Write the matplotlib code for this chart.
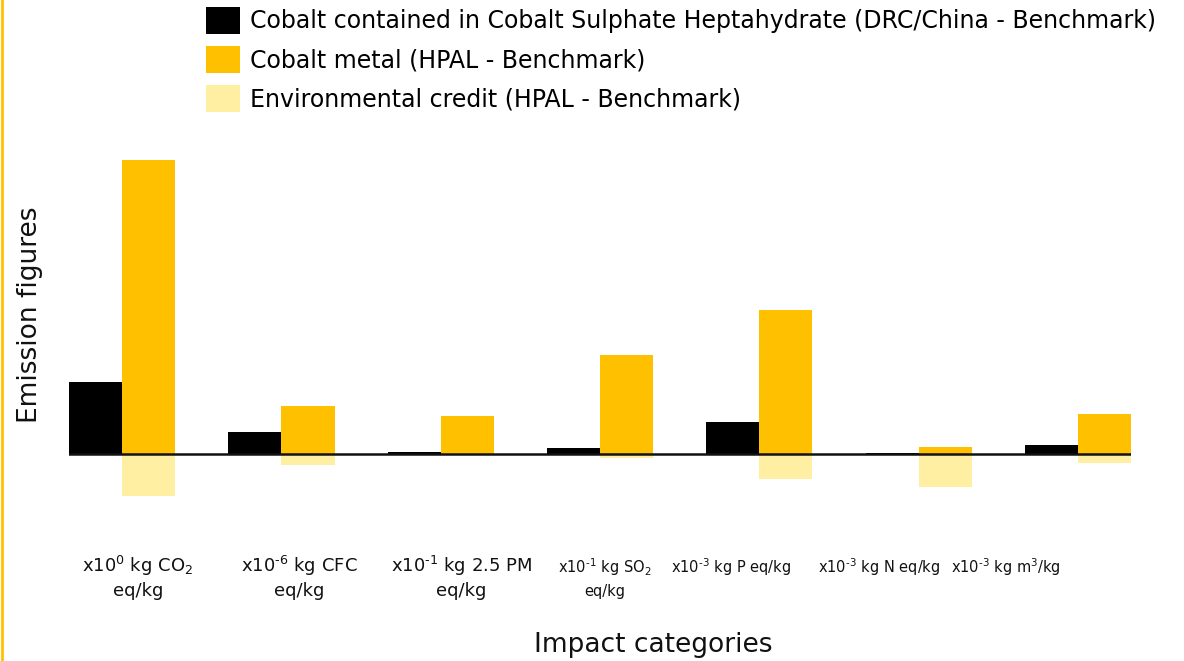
import numpy as np
import matplotlib
matplotlib.use('Agg')
import matplotlib.pyplot as plt
from matplotlib.lines import Line2D

plt.rcParams['font.family'] = 'DejaVu Sans'
plt.rcParams['mathtext.fontset'] = 'dejavusans'

HY = '\u2010'  # short hyphen, narrower than the math minus
categories = [
    'x10$^{0}$ kg CO$_{2}$\neq/kg',
    f'x10$^{{{HY}6}}$ kg CFC\neq/kg',
    f'x10$^{{{HY}1}}$ kg 2.5 PM\neq/kg',
    f'x10$^{{{HY}1}}$ kg SO$_{{2}}$\neq/kg',
    f'x10$^{{{HY}3}}$ kg P eq/kg',
    f'x10$^{{{HY}3}}$ kg N eq/kg',
    f'x10$^{{{HY}3}}$ kg m$^{{3}}$/kg',
]
# label offsets from group centre and font sizes (placed by hand in the original)
label_shift = [0.10, 0.11, 0.13, 0.03, -0.18, -0.25, -0.45]
label_size = [13, 13, 13, 10.5, 10.5, 10.5, 10.5]

cobalt_sulphate = [72, 22, 2.5, 6, 32, 1, 9]
cobalt_metal = [294, 48, 38, 99, 144, 7, 40]
env_credit = [-42, -11, -1, -3.5, -25, -33, -9]

legend_labels = [
    'Cobalt contained in Cobalt Sulphate Heptahydrate (DRC/China - Benchmark)',
    'Cobalt metal (HPAL - Benchmark)',
    'Environmental credit (HPAL - Benchmark)',
]
colors = ['#000000', '#FFC000', '#FFEFA3']

W, H = 1184, 661
fig = plt.figure(figsize=(W / 100, H / 100), dpi=100)
ax = fig.add_axes([69 / W, (H - 520) / H, 1062 / W, 370 / H])

x = np.arange(len(categories))
w = 1 / 3
ax.bar(x - w / 2, cobalt_sulphate, width=w, color=colors[0], label=legend_labels[0])
ax.bar(x + w / 2, cobalt_metal, width=w, color=colors[1], label=legend_labels[1])
ax.bar(x + w / 2, env_credit, width=w, color=colors[2], label=legend_labels[2])
ax.axhline(0, color='#111111', lw=1.8, zorder=3)

ax.set_xlim(-w, len(categories) - 1 + w)
ax.set_ylim(-66, 304)
ax.set_yticks([])
ax.set_xticks([])
for s in ax.spines.values():
    s.set_visible(False)

for i, lab in enumerate(categories):
    small = label_size[i] < 12
    ax.text(i + label_shift[i], -102 if small else -100, lab, ha='center', va='top',
            fontsize=label_size[i], linespacing=1.5 if small else 1.3,
            color='#111111')

fig.text(653 / W, 1 - 645 / H, 'Impact categories', ha='center', va='center',
         fontsize=19, color='#111111')
fig.text(30 / W, 1 - 315 / H, 'Emission figures', ha='center', va='center',
         rotation=90, fontsize=19, color='#111111')

fig.legend(loc='upper left', bbox_to_anchor=(206 / W, 1 - 7 / H), frameon=False,
           fontsize=17, handlelength=1.44, handleheight=1.4, handletextpad=0.42,
           labelspacing=0.5, borderpad=0, borderaxespad=0)

fig.add_artist(Line2D([1.5 / W, 1.5 / W], [0, 1], color='#FFC000', lw=2,
                      transform=fig.transFigure))

fig.savefig('out.png', dpi=100)
